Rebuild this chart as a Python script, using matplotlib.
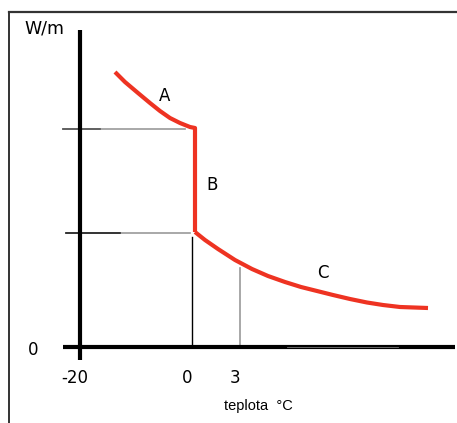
import numpy as np
import matplotlib
matplotlib.use("Agg")
import matplotlib.pyplot as plt

plt.rcParams['font.family'] = ['DejaVu Sans']

# schematic curve (origin of axes at 0,0)
curve_a_x = [3.5, 4.5, 5.8, 7.0, 8.0, 9.0, 10.0, 11.0, 11.5]
curve_a_y = [27.5, 26.5, 25.4, 24.4, 23.6, 22.9, 22.4, 22.0, 21.9]
curve_b_x = [11.5, 11.5]
curve_b_y = [21.9, 11.5]
curve_c_x = [11.5, 12.5, 13.8, 15.5, 17.2, 18.8, 20.5, 22.1, 23.7, 25.3,
             27.0, 28.7, 30.3, 32.0, 34.8]
curve_c_y = [11.5, 10.7, 9.8, 8.7, 7.8, 7.1, 6.5, 6.0, 5.6, 5.2,
             4.8, 4.45, 4.2, 4.0, 3.9]

tick_pos = [0.0, 11.2, 16.0]
tick_labels = ["-20", "0", "3"]
level_high = 21.8
level_low = 11.4

fig = plt.figure(figsize=(4.57, 4.23), dpi=100)
ax = fig.add_axes([0, 0, 1, 1])
ax.set_xlim(-8.0, 37.7)
ax.set_ylim(-7.6, 34.7)
ax.axis("off")

# frame of the picture
ax.plot([-7.1, -7.1], [-7.6, 33.5], color="#333333", lw=1.4)
ax.plot([-7.1, 37.7], [33.5, 33.5], color="#333333", lw=1.6)

# helper lines
ax.plot([-1.7, 10.5], [level_high, level_high], color="#999999", lw=1.2)
ax.plot([-1.7, 2.0], [level_high, level_high], color="#555555", lw=1.2)
ax.plot([-1.4, 11.0], [level_low, level_low], color="#999999", lw=1.2)
ax.plot([-1.4, 4.0], [level_low, level_low], color="#222222", lw=1.2)
ax.plot([tick_pos[1], tick_pos[1]], [0, 11.0], color="black", lw=1.0)
ax.plot([tick_pos[2], tick_pos[2]], [0, 7.9], color="#999999", lw=1.2)

# axes
ax.plot([0, 0], [-1.3, 31.7], color="black", lw=3.0, solid_capstyle="butt")
ax.plot([-1.7, 37.5], [0, 0], color="black", lw=3.0, solid_capstyle="butt")
ax.plot([20.7, 31.8], [0, 0], color="#777777", lw=0.6)

# red curve
red = "#ee3322"
ax.plot(curve_a_x + curve_b_x[1:], curve_a_y + curve_b_y[1:], color=red,
        lw=3.0, solid_joinstyle="round", solid_capstyle="butt")
ax.plot(curve_c_x, curve_c_y, color=red, lw=3.0,
        solid_joinstyle="round", solid_capstyle="butt")

# labels
ax.text(8.5, 25.1, "A", fontsize=12, ha="center", va="center")
ax.text(13.2, 16.2, "B", fontsize=12, ha="center", va="center")
ax.text(24.3, 7.4, "C", fontsize=12, ha="center", va="center")

for p, lab in zip(tick_pos, tick_labels):
    ax.text(p - 0.5, -3.1, lab, fontsize=12, ha="center", va="center")
ax.text(-4.7, -0.3, "0", fontsize=12, ha="center", va="center")
ax.text(-3.6, 31.9, "W/m", fontsize=12.5, ha="center", va="center")
ax.text(17.8, -5.9, "teplota  °C", fontsize=10.5, ha="center", va="center",
        family=['Liberation Sans Narrow', 'Liberation Sans'])

fig.savefig("out.png", dpi=100)
